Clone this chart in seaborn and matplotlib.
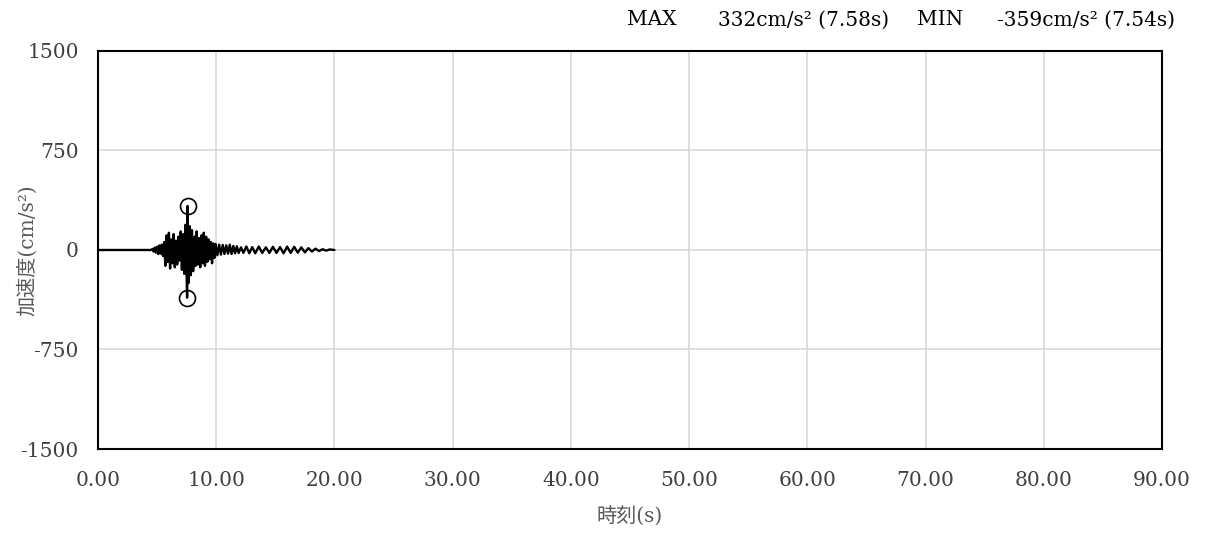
import numpy as np
import matplotlib
matplotlib.use("Agg")
import matplotlib.pyplot as plt
import seaborn as sns
import pandas as pd

# peaks (time in s, acceleration in cm/s2)
t_pts = [0.00, 4.50, 4.60, 4.70, 4.80, 4.90, 5.00, 5.10, 5.20, 5.30, 5.40,
         5.50, 5.60, 5.70, 5.80, 5.90, 6.00, 6.10, 6.20, 6.30, 6.40,
         6.50, 6.60, 6.70, 6.80, 6.90, 7.00, 7.10, 7.20, 7.30, 7.40,
         7.50, 7.54, 7.58, 7.65, 7.75, 7.85, 7.95, 8.05, 8.15, 8.25,
         8.35, 8.45, 8.55, 8.65, 8.75, 8.85, 8.95, 9.05, 9.15, 9.25,
         9.35, 9.45, 9.55, 9.65, 9.75, 9.85, 9.95, 10.10, 10.25, 10.40,
         10.55, 10.70, 10.85, 11.00, 11.15, 11.30, 11.45, 11.60, 11.75, 11.90,
         12.10, 12.30, 12.55, 12.80, 13.05, 13.30, 13.60, 13.90, 14.20, 14.50,
         14.80, 15.10, 15.40, 15.70, 16.00, 16.30, 16.60, 16.90, 17.20, 17.50,
         17.80, 18.10, 18.40, 18.70, 19.00, 19.30, 19.60, 20.00]
acc_pts = [0, 0, 8, -12, 18, -20, 25, -30, 35, -28, 40,
           -45, 60, -120, 110, -90, 130, -140, 80, -100, 120,
           -130, 70, -110, 100, -80, 140, -150, 120, -180, 190,
           -200, -359, 332, -250, 180, -190, 150, -160, 100, -120,
           140, -110, 90, -130, 110, -100, 130, -120, 100, -90,
           80, -70, 60, -100, 50, -60, 45, -40, 40, -35,
           38, -30, 35, -28, 40, -30, 30, -25, 28, -22,
           20, -22, 26, -24, 22, -25, 26, -22, 20, -22,
           24, -22, 22, -25, 26, -22, 24, -20, 20, -18,
           14, -12, 10, -8, 6, -5, 4, 0]

max_t, max_v = 7.58, 332
min_t, min_v = 7.54, -359

x_ticks = [0, 10, 20, 30, 40, 50, 60, 70, 80, 90]
y_ticks = [-1500, -750, 0, 750, 1500]

df = pd.DataFrame({"t": t_pts, "acc": acc_pts})

sns.set_theme(style="white")
plt.rcParams['font.family'] = ['DejaVu Serif', 'Noto Sans CJK JP']

fig = plt.figure(figsize=(12.08, 5.36), dpi=100)
ax = fig.add_axes([0.0811, 0.1623, 0.8808, 0.7426])

sns.lineplot(data=df, x="t", y="acc", color="black", linewidth=1.7,
             estimator=None, sort=False, ax=ax, zorder=3)
ax.plot([max_t, min_t], [max_v, min_v], linestyle="none", marker="o",
        markersize=11.5, markerfacecolor="none", markeredgecolor="black",
        markeredgewidth=1.2, zorder=4)

ax.set_xlim(0, 90)
ax.set_ylim(-1500, 1500)
ax.set_xticks(x_ticks)
ax.set_xticklabels([f"{v:.2f}" for v in x_ticks])
ax.set_yticks(y_ticks)
ax.set_yticklabels([str(v) for v in y_ticks])
ax.tick_params(axis="both", length=0, labelsize=14.5, colors="#404040")
ax.tick_params(axis="x", pad=16)
ax.tick_params(axis="y", pad=14)
ax.grid(True, color="#d9d9d9", linewidth=1.2)
ax.set_axisbelow(True)
for s in ax.spines.values():
    s.set_color("black")
    s.set_linewidth(1.5)

ax.set_xlabel("時刻(s)", fontsize=14.5, color="#595959")
ax.xaxis.set_label_coords(0.5, -0.145)
ax.set_ylabel("加速度(cm/s²)", fontsize=14.5, color="#595959")
ax.yaxis.set_label_coords(-0.057, 0.5)

# header with max / min values
hy = 0.963
fig.text(0.519, hy, "MAX", ha="left", va="center", fontsize=14.5, color="black")
fig.text(0.594, hy, f"{max_v}cm/s² ({max_t:.2f}s)", ha="left", va="center",
         fontsize=14.5, color="black")
fig.text(0.759, hy, "MIN", ha="left", va="center", fontsize=14.5, color="black")
fig.text(0.973, hy, f"{min_v}cm/s² ({min_t:.2f}s)", ha="right", va="center",
         fontsize=14.5, color="black")

plt.savefig("out.png", dpi=100)
